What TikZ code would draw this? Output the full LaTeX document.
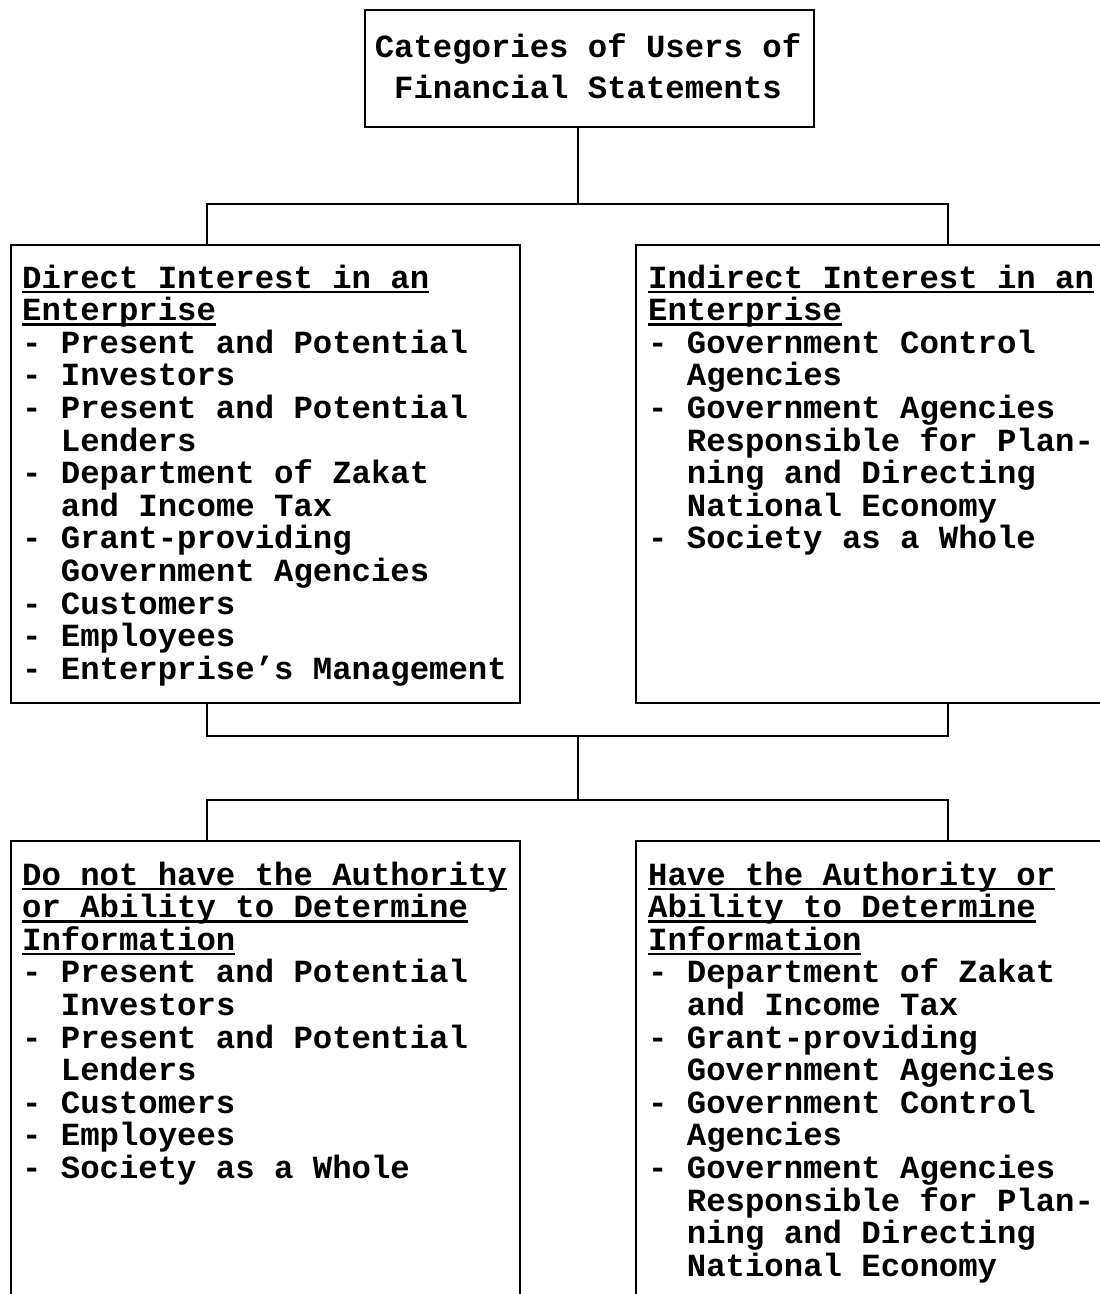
\documentclass[tikz,border=0pt]{standalone}
\usepackage{fontspec}
\newfontfamily\typer{Liberation Mono}
% underlined heading line: a rule of the text's width just under the baseline
\newcommand\hdline[1]{\leavevmode\setbox0\hbox{#1}\rlap{\rule[-5pt]{\wd0}{2.2pt}}\box0}
\newcommand\ind{\hphantom{- }}
\begin{document}
\begin{tikzpicture}[x=1pt,y=-1pt,
  frame/.style={draw, line width=2.4pt, anchor=north west, inner sep=0},
  wire/.style={line width=2.2pt},
  body/.style={anchor=base west, inner sep=0,
    font=\typer\bfseries\fontsize{32.3}{32.6}\selectfont},
  title/.style={anchor=base, inner sep=0,
    font=\typer\bfseries\fontsize{32.3}{41}\selectfont}]
\useasboundingbox (0,0) rectangle (1100,1294);
\clip (0,0) rectangle (1100,1294);

% boxes
\node[frame, minimum width=449pt, minimum height=117pt] (top) at (364,9) {};
\node[frame, minimum width=509pt, minimum height=458pt] (L1) at (10,244) {};
\node[frame, minimum width=500pt, minimum height=458pt] (R1) at (635,244) {};
\node[frame, minimum width=509pt, minimum height=500pt] (L2) at (10,840) {};
\node[frame, minimum width=500pt, minimum height=500pt] (R2) at (635,840) {};

% texts
\node[title] (topt) at (588,57) {\parbox[t]{449pt}{\centering
  Categories of Users of\\Financial Statements}};

\node[body] (L1t) at (22,288) {\parbox[t]{600pt}{\raggedright
  \hdline{Direct Interest in an}\\
  \hdline{Enterprise}\\
  - Present and Potential\\
  - Investors\\
  - Present and Potential\\
  \ind Lenders\\
  - Department of Zakat\\
  \ind and Income Tax\\
  - Grant-providing\\
  \ind Government Agencies\\
  - Customers\\
  - Employees\\
  - Enterprise’s Management}};

\node[body] (R1t) at (648,288) {\parbox[t]{600pt}{\raggedright
  \hdline{Indirect Interest in an}\\
  \hdline{Enterprise}\\
  - Government Control\\
  \ind Agencies\\
  - Government Agencies\\
  \ind Responsible for Plan-\\
  \ind ning and Directing\\
  \ind National Economy\\
  - Society as a Whole}};

\node[body] (L2t) at (22,885) {\parbox[t]{600pt}{\raggedright
  \hdline{Do not have the Authority}\\
  \hdline{or Ability to Determine}\\
  \hdline{Information}\\
  - Present and Potential\\
  \ind Investors\\
  - Present and Potential\\
  \ind Lenders\\
  - Customers\\
  - Employees\\
  - Society as a Whole}};

\node[body] (R2t) at (648,885) {\parbox[t]{600pt}{\raggedright
  \hdline{Have the Authority or}\\
  \hdline{Ability to Determine}\\
  \hdline{Information}\\
  - Department of Zakat\\
  \ind and Income Tax\\
  - Grant-providing\\
  \ind Government Agencies\\
  - Government Control\\
  \ind Agencies\\
  - Government Agencies\\
  \ind Responsible for Plan-\\
  \ind ning and Directing\\
  \ind National Economy}};

% connector junctions
\coordinate (j0) at (578,204);
\coordinate (b1) at (207,204);
\coordinate (b2) at (948,204);
\coordinate (m1) at (207,736);
\coordinate (m2) at (948,736);
\coordinate (c1) at (578,736);
\coordinate (c2) at (578,800);
\coordinate (n1) at (207,800);
\coordinate (n2) at (948,800);

% connectors
\draw[wire] (j0 |- top.south) -- (j0);
\draw[wire] (b1 |- L1.north) -- (b1) -- (b2) -- (b2 |- R1.north);
\draw[wire] (m1 |- L1.south) -- (m1) -- (m2) -- (m2 |- R1.south);
\draw[wire] (c1) -- (c2);
\draw[wire] (n1 |- L2.north) -- (n1) -- (n2) -- (n2 |- R2.north);
\end{tikzpicture}
\end{document}
